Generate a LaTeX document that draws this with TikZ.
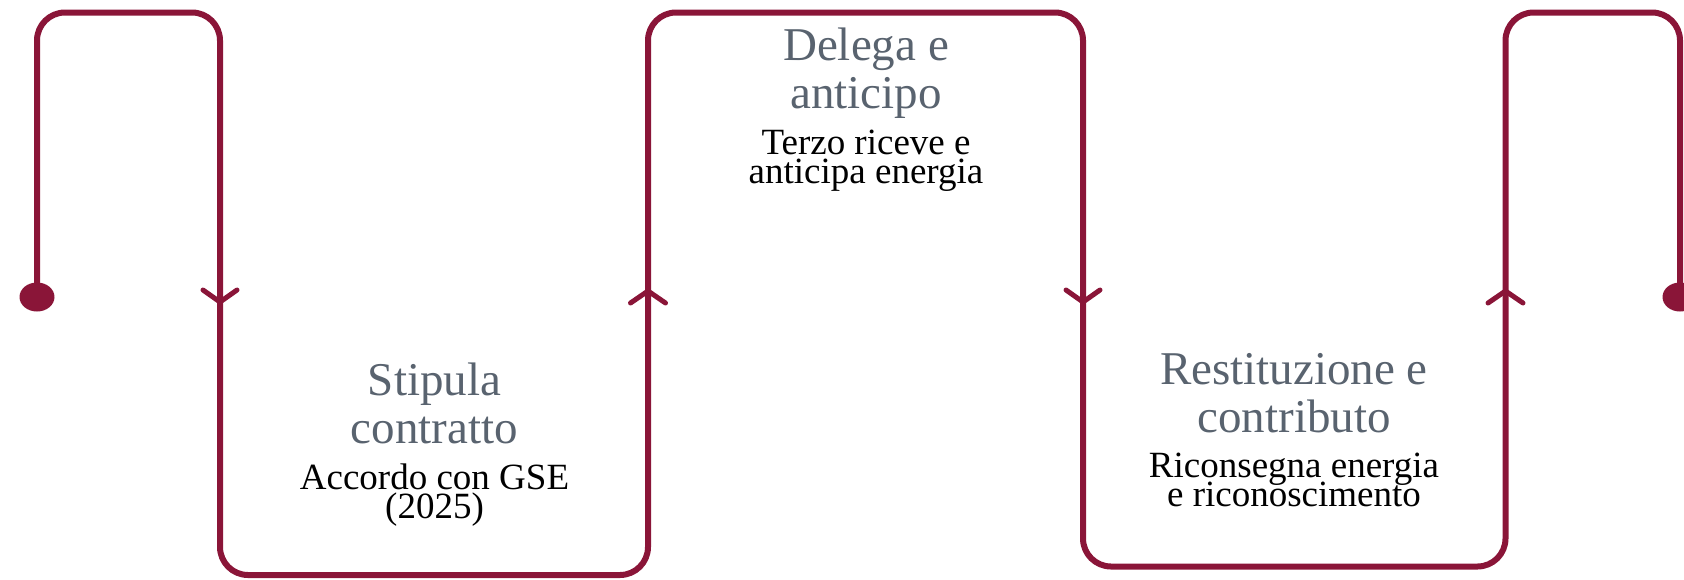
\documentclass[tikz,border=0pt]{standalone}
\usepackage{fontspec}
\setmainfont{Liberation Serif}
\definecolor{wine}{HTML}{8A1538}
\definecolor{slate}{HTML}{59636F}
\newcommand\mytightlines{\lineskiplimit=-100pt\relax}
\begin{document}
\begin{tikzpicture}[x=1pt,y=-1pt,
  flow/.style={draw=wine,line width=6pt,line cap=round,line join=round,rounded corners=28pt},
  chev/.style={draw=wine,line width=5pt,line cap=round,line join=miter},
  enddot/.style={fill=wine},
  ttl/.style={text=slate,font={\fontsize{47}{48}\selectfont\mytightlines},align=center,anchor=base,inner sep=0pt},
  dsc/.style={text=black,font={\fontsize{37}{28.5}\selectfont\mytightlines},align=center,anchor=base,inner sep=0pt},
]
\useasboundingbox (0,0) rectangle (1684,579);
\coordinate (s) at (37,297);
\coordinate (c1) at (37,12.5);
\coordinate (c2) at (220,12.5);
\coordinate (c3) at (220,575);
\coordinate (c4) at (648,575);
\coordinate (c5) at (648,12.5);
\coordinate (c6) at (1083,12.5);
\coordinate (c7) at (1083,566.5);
\coordinate (c8) at (1505.5,566.5);
\coordinate (c9) at (1505.5,12.5);
\coordinate (c10) at (1680,12.5);
\coordinate (e) at (1680,297);
\draw[flow] (s) -- (c1) -- (c2) -- (c3) -- (c4) -- (c5) -- (c6) -- (c7) -- (c8) -- (c9) -- (c10) -- (e);
\fill[enddot] (s) ellipse [x radius=17.5pt, y radius=14.5pt];
\fill[enddot] (e) ellipse [x radius=17.5pt, y radius=14.5pt];
% arrowheads
\coordinate (a1) at (220,302);
\coordinate (a2) at (648,291);
\coordinate (a3) at (1083,302);
\coordinate (a4) at (1505.5,291);
\draw[chev] ([shift={(-17,-12)}]a1) -- (a1) -- ([shift={(17,-12)}]a1);
\draw[chev] ([shift={(-17.5,12)}]a2) -- (a2) -- ([shift={(17.5,12)}]a2);
\draw[chev] ([shift={(-17,-12)}]a3) -- (a3) -- ([shift={(17,-12)}]a3);
\draw[chev] ([shift={(-17.5,12)}]a4) -- (a4) -- ([shift={(17.5,12)}]a4);
% texts (anchor = baseline of the last line)
\node[ttl] (t1) at (434.5,443) {Stipula\\contratto};
\node[dsc] (d1) at (434.5,518) {Accordo con GSE\\(2025)};
\node[ttl] (t2) at (866,108) {Delega e\\anticipo};
\node[dsc] (d2) at (866,183) {Terzo riceve e\\anticipa energia};
\node[ttl] (t3) at (1294,432) {Restituzione e\\contributo};
\node[dsc] (d3) at (1294,506) {Riconsegna energia\\e riconoscimento};
\end{tikzpicture}
\end{document}
